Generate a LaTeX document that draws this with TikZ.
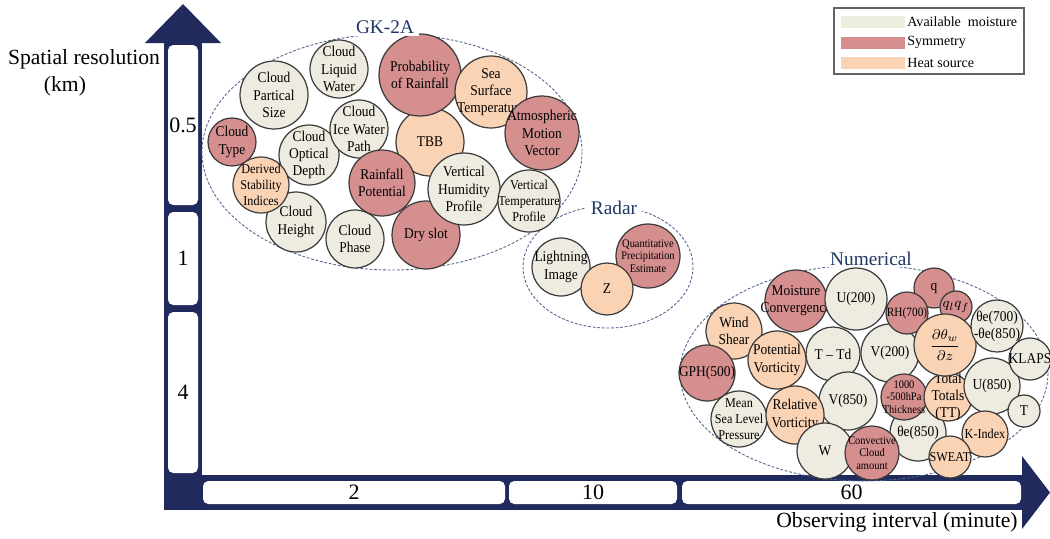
\documentclass[tikz,border=0pt]{standalone}
\usepackage{amsmath,mathtools}
\usepackage{fontspec}
\setmainfont{Liberation Serif}
\newfontfamily\bubfont{Liberation Serif}[FakeStretch=0.9]
\definecolor{navy}{RGB}{32,42,92}
\definecolor{moistfill}{RGB}{238,236,225}
\definecolor{symfill}{RGB}{213,143,142}
\definecolor{heatfill}{RGB}{250,211,180}
\definecolor{moistleg}{RGB}{235,240,222}
\definecolor{bubedge}{RGB}{60,60,60}
\definecolor{clusterline}{RGB}{84,100,145}
\definecolor{labelblue}{RGB}{31,56,100}
\definecolor{legline}{RGB}{100,100,100}

\begin{document}
\begin{tikzpicture}[x=0.02cm,y=-0.02cm,
  bub/.style={circle,draw=bubedge,line width=0.7pt,inner sep=0pt,minimum size=#1*0.04cm},
  moist/.style={bub=#1,fill=moistfill},
  sym/.style={bub=#1,fill=symfill},
  heat/.style={bub=#1,fill=heatfill},
  f8/.style={align=center,inner sep=0pt,font=\bubfont\fontsize{8.5}{9.8}\selectfont},
  f7/.style={align=center,inner sep=0pt,font=\bubfont\fontsize{7.7}{9}\selectfont},
  f65/.style={align=center,inner sep=0pt,font=\bubfont\fontsize{7.2}{8.2}\selectfont},
  f6/.style={align=center,inner sep=0pt,font=\bubfont\fontsize{6.6}{7.1}\selectfont},
  cluster/.style={draw=clusterline,dash pattern=on 1.6pt off 1pt,line width=0.5pt},
  cluster label/.style={fill=white,inner xsep=3pt,inner ysep=1pt,text=labelblue,
    font=\fontsize{11}{13}\selectfont},
  tickbox/.style={fill=white,rounded corners=3pt,inner sep=0pt,
    font=\fontsize{12.5}{15}\selectfont},
  axis label/.style={inner sep=0pt,font=\fontsize{12.3}{15}\selectfont},
  legtext/.style={anchor=west,inner sep=0pt,font=\fontsize{8}{10}\selectfont},
  ]
  \useasboundingbox (0,0) rectangle (1050,538);

  % axes
  \fill[navy] (164,43) rectangle (202,510);
  \fill[navy] (164,475) rectangle (1022,510);
  \fill[navy] (145,43) -- (183,4) -- (221,43) -- cycle;
  \fill[navy] (1022,456) -- (1050,492.5) -- (1022,529) -- cycle;
  \foreach \nm/\y/\h/\lab in {res05/125/160/0.5,res1/258.5/93/1,res4/392.5/161/4}
    \node[tickbox,minimum width=30*0.02cm,minimum height=\h*0.02cm] (\nm) at (183,\y) {\lab};
  \foreach \nm/\x/\w/\lab in {int2/354/302/2,int10/593/168/10,int60/851.5/339/60}
    \node[tickbox,minimum width=\w*0.02cm,minimum height=23*0.02cm] (\nm) at (\x,492.5) {\lab};
  \node[axis label] (ylab) at (84,59) {Spatial resolution};
  \node[axis label] (yunit) at (65,86) {(km)};
  \node[axis label] (xlab) at (897,522) {Observing interval (minute)};

  % clusters
  \draw[cluster] (392,152) ellipse [x radius=190,y radius=118];
  \draw[cluster] (608,267) ellipse [x radius=85,y radius=61];
  \draw[cluster] (864,373) ellipse [x radius=184,y radius=108];

  \foreach \nm/\x/\y/\rad/\kind/\fnt/\lab in {
    clw/339/69/29/moist/f8/Cloud\\Liquid\\Water,
    cps/274/95/34/moist/f8/Cloud\\Partical\\Size,
    cod/309/155/30/moist/f8/Cloud\\Optical\\Depth,
    ciwp/359/129/29/moist/f8/Cloud\\Ice Water\\Path,
    ctype/232/142/24/sym/f8/Cloud\\Type,
    cht/296/222/30/moist/f8/Cloud\\Height,
    dsi/261/185/28/heat/f7/Derived\\Stability\\Indices,
    cph/355/239/29/moist/f8/Cloud\\Phase,
    tbb/430/142/34/heat/f8/TBB,
    rfp/382/183/33/sym/f8/Rainfall\\Potential,
    pop/420/75/41/sym/f8/Probability\\of Rainfall,
    sst/491/92/36/heat/f8/Sea\\Surface\\Temperature,
    amv/542/133/37/sym/f8/Atmospheric\\Motion\\Vector,
    dry/426/235/34/sym/f8/Dry slot,
    vhp/464/189/36/moist/f8/Vertical\\Humidity\\Profile,
    vtp/529/201/31/moist/f7/Vertical\\Temperature\\Profile,
    lgt/561/267/29/moist/f8/Lightning\\Image,
    qpe/648/256/32/sym/f6/Quantitative\\Precipitation\\Estimate,
    zr/607/289/26/heat/f8/Z,
    wsh/734/331/28/heat/f8/Wind\\Shear,
    gph/707/373/28/sym/f8/GPH(500),
    mcv/796/301/31/sym/f8/Moisture\\Convergence,
    u200/856/299/31/moist/f8/U(200),
    pv/777/360/29/heat/f8/Potential\\Vorticity,
    ttd/833/354/27/moist/f8/T – Td,
    v200/890/353/29/moist/f8/V(200),
    q/934/288/20/sym/f8/q,
    rh700/907/313/21/sym/f65/RH(700),
    qlqf/956/307/16/sym/f8/$q_l q_f$,
    the850/918/433/28/moist/f8/θe(850),
    thk/904/397/23/sym/f6/1000\\-500hPa\\Thickness,
    ttl/948/397/24/heat/f8/Total\\Totals\\(TT),
    dthw/945/345/31/heat/f8/$\dfrac{\partial\theta_w}{\partial z}$,
    the700/997/326/26/moist/f8/θe(700)\\-θe(850),
    u850/992/386/28/moist/f8/U(850),
    klaps/1030/359/21/moist/f8/KLAPS,
    tmp/1024/411/16/moist/f8/T,
    v850/848/401/29/moist/f8/V(850),
    mslp/739/419/28/moist/f7/Mean\\Sea Level\\Pressure,
    rvo/795/415/29/heat/f8/Relative\\Vorticity,
    w/825/451/28/moist/f8/W,
    ccl/872/453/27/sym/f6/Convective\\Cloud\\amount,
    kidx/985/434/23/heat/f7/K-Index,
    sweat/950/457/21/heat/f7/SWEAT}{
    \node[\kind=\rad] (\nm) at (\x,\y) {};
    \node[\fnt] (\nm-t) at (\nm) {\lab};
  }

  \node[cluster label] (gk) at (385,27.5) {GK-2A};
  \node[cluster label] (radar) at (614,207.5) {Radar};
  \node[cluster label] (nwp) at (871,258.5) {Numerical};

  % legend
  \draw[legline,line width=0.7pt] (834,8) rectangle (1024,74);
  \foreach \c/\y/\lab in {moistleg/21.5/Available\ \ moisture,symfill/42.5/Symmetry,heatfill/63/Heat source}{
    \fill[\c] (841,\y-6) rectangle (905,\y+6);
    \node[legtext] (leg-\c) at (907,\y) {\lab};
  }
\end{tikzpicture}
\end{document}
